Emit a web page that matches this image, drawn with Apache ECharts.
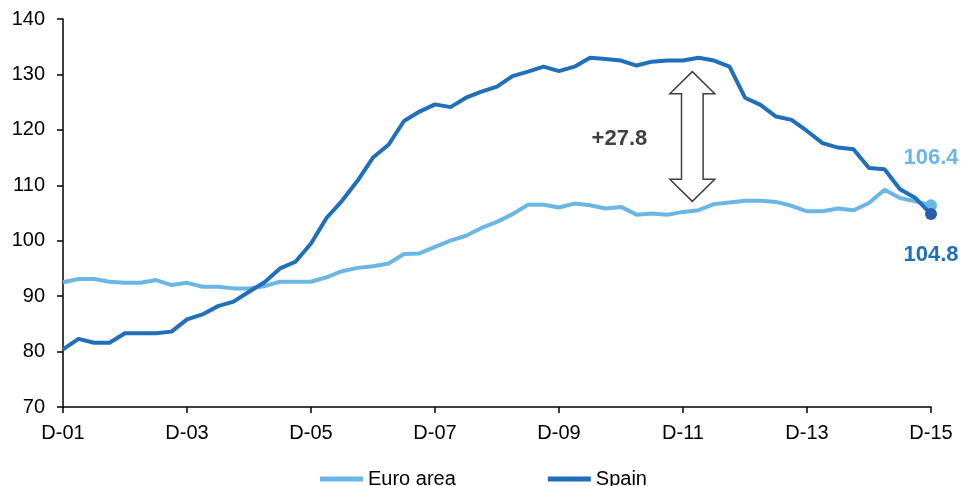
<!DOCTYPE html>
<html>
<head>
<meta charset="utf-8">
<script src="https://cdn.jsdelivr.net/npm/echarts@6/dist/echarts.min.js"></script>
<style>
  html, body { margin: 0; padding: 0; background: #fff; }
  #chart { width: 961px; height: 486px; }
</style>
</head>
<body>
<div id="chart"></div>
<script>
// Quarterly index, Dec-2001 to Dec-2015 (57 quarters)
const tickLabels = ['D-01', 'D-03', 'D-05', 'D-07', 'D-09', 'D-11', 'D-13', 'D-15'];

const euroArea = [
  92.5, 93.1, 93.1, 92.6, 92.4, 92.4, 92.9, 92.0, 92.4, 91.7,
  91.7, 91.4, 91.4, 91.8, 92.6, 92.6, 92.6, 93.4, 94.5, 95.1,
  95.4, 95.9, 97.6, 97.7, 98.9, 100.0, 100.9, 102.3, 103.4, 104.8,
  106.5, 106.5, 106.0, 106.7, 106.4, 105.8, 106.1, 104.7, 104.9, 104.7,
  105.2, 105.5, 106.6, 106.9, 107.2, 107.2, 107.0, 106.3, 105.3, 105.3,
  105.8, 105.5, 106.8, 109.2, 107.7, 107.1, 106.4
];

const spain = [
  80.4, 82.3, 81.6, 81.6, 83.3, 83.3, 83.3, 83.6, 85.8, 86.7,
  88.2, 89.0, 90.8, 92.5, 95.0, 96.2, 99.5, 104.1, 107.2, 110.8,
  115.0, 117.3, 121.6, 123.3, 124.6, 124.1, 125.8, 126.9, 127.8, 129.7,
  130.5, 131.4, 130.6, 131.4, 133.0, 132.8, 132.5, 131.6, 132.3, 132.5,
  132.5, 133.0, 132.5, 131.4, 125.8, 124.5, 122.4, 121.8, 119.8, 117.6,
  116.8, 116.5, 113.1, 112.9, 109.3, 107.7, 104.8
];

// Gap annotation: double arrow [quarter, top, bottom] and its caption [quarter, value]
const gapArrow = [40.6, 130.5, 107.1];
const gapLabel = [35.9, 118.4, '+27.8'];

const euroColor = '#6cb6e6';
const spainColor = '#1f6fba';
const spainDot = '#2a5ea6';
const font = 'Liberation Sans, Arial, sans-serif';

function withEndPoint(values, dotColor, textColor, pos, offset) {
  const last = values.length - 1;
  return values.map((v, i) => i === last ? {
    value: [i, v],
    symbol: 'circle',
    symbolSize: 12,
    itemStyle: { color: dotColor },
    label: {
      show: true, position: pos, distance: offset,
      formatter: p => p.value[1].toFixed(1),
      color: textColor, fontFamily: font, fontSize: 22, fontWeight: 'bold'
    }
  } : [i, v]);
}

const chart = echarts.init(document.getElementById('chart'), null, { renderer: 'canvas' });

chart.setOption({
  animation: false,
  backgroundColor: '#fff',
  grid: { left: 63, right: 30, top: 19, bottom: 79 },
  legend: {
    data: ['Euro area', 'Spain'],
    left: 315, top: 464,
    icon: 'rect', itemWidth: 43, itemHeight: 5, itemGap: 92,
    textStyle: { fontFamily: font, fontSize: 20, color: '#000', padding: [0, 0, 0, 0] }
  },
  xAxis: {
    type: 'value', min: 0, max: 56, interval: 8,
    axisLine: { lineStyle: { color: '#000', width: 1.5 } },
    axisTick: { show: true, length: 6, lineStyle: { color: '#000', width: 1.5 } },
    axisLabel: {
      margin: 16, color: '#000', fontFamily: font, fontSize: 20,
      formatter: v => tickLabels[Math.round(v / 8)]
    },
    splitLine: { show: false }
  },
  yAxis: {
    type: 'value', min: 70, max: 140, interval: 10,
    axisLine: { show: true, lineStyle: { color: '#000', width: 1.5 } },
    axisTick: { show: true, length: 6, lineStyle: { color: '#000', width: 1.5 } },
    axisLabel: { margin: 18, color: '#000', fontFamily: font, fontSize: 20 },
    splitLine: { show: false }
  },
  series: [
    {
      name: 'Euro area', type: 'line', symbol: 'none',
      lineStyle: { color: euroColor, width: 4 },
      itemStyle: { color: euroColor },
      data: withEndPoint(euroArea, euroColor, euroColor, 'top', 30),
      z: 2
    },
    {
      name: 'Spain', type: 'line', symbol: 'none',
      lineStyle: { color: spainColor, width: 4 },
      itemStyle: { color: spainColor },
      data: withEndPoint(spain, spainDot, spainColor, 'bottom', 24),
      z: 3
    },
    {
      type: 'custom', silent: true,
      data: [gapArrow],
      renderItem: (params, api) => {
        const top = api.coord([api.value(0), api.value(1)]);
        const bot = api.coord([api.value(0), api.value(2)]);
        const cx = top[0], ty = top[1], by = bot[1];
        const hw = 22.5, sw = 10.8, hl = 22;
        const pts = [
          [cx, ty], [cx + hw, ty + hl], [cx + sw, ty + hl], [cx + sw, by - hl],
          [cx + hw, by - hl], [cx, by], [cx - hw, by - hl], [cx - sw, by - hl],
          [cx - sw, ty + hl], [cx - hw, ty + hl]
        ];
        const t = api.coord([gapLabel[0], gapLabel[1]]);
        return {
          type: 'group',
          children: [
            { type: 'polygon', shape: { points: pts },
              style: { fill: '#fff', stroke: '#404040', lineWidth: 1.5 } },
            { type: 'text', x: t[0], y: t[1],
              style: { text: gapLabel[2], fill: '#404040', font: 'bold 22px ' + font,
                       align: 'center', verticalAlign: 'middle' } }
          ]
        };
      },
      z: 1
    }
  ]
});
</script>
</body>
</html>
